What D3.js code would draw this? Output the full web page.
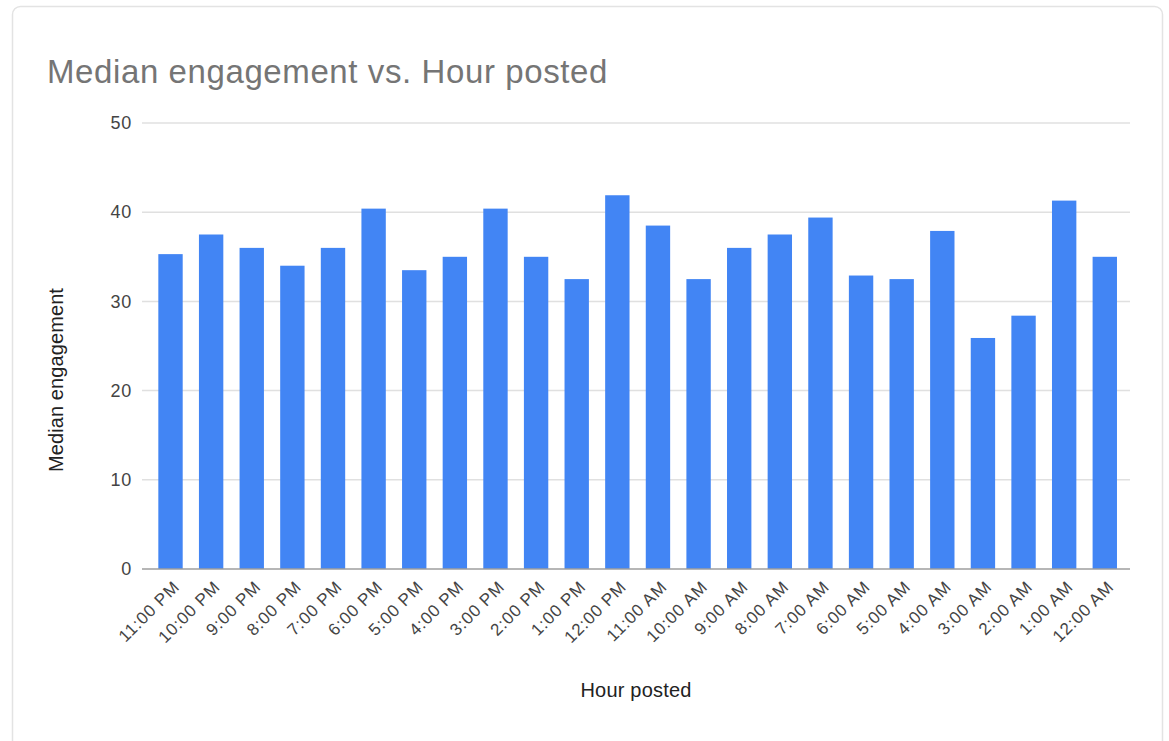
<!DOCTYPE html>
<html>
<head>
<meta charset="utf-8">
<script src="https://cdn.jsdelivr.net/npm/d3@7"></script>
<style>
  html, body { margin: 0; padding: 0; background: #fff; }
  svg { display: block; }
  text { font-family: "Liberation Sans", Arial, sans-serif; }
</style>
</head>
<body>
<svg id="chart" width="1169" height="741"></svg>
<script>
// Hour of posting, in the order shown on the axis
const hours = [
  "11:00 PM", "10:00 PM", "9:00 PM", "8:00 PM", "7:00 PM", "6:00 PM",
  "5:00 PM", "4:00 PM", "3:00 PM", "2:00 PM", "1:00 PM", "12:00 PM",
  "11:00 AM", "10:00 AM", "9:00 AM", "8:00 AM", "7:00 AM", "6:00 AM",
  "5:00 AM", "4:00 AM", "3:00 AM", "2:00 AM", "1:00 AM", "12:00 AM"
];
// Median engagement for each hour
const medianEngagement = [
  35.3, 37.5, 36.0, 34.0, 36.0, 40.4,
  33.5, 35.0, 40.4, 35.0, 32.5, 41.9,
  38.5, 32.5, 36.0, 37.5, 39.4, 32.9,
  32.5, 37.9, 25.9, 28.4, 41.3, 35.0
];
const yTicks = [0, 10, 20, 30, 40, 50];

const chartTitle = "Median engagement vs. Hour posted";
const xTitle = "Hour posted";
const yTitle = "Median engagement";

const svg = d3.select("#chart");

// card outline
svg.append("rect")
  .attr("x", 12.5).attr("y", 6.5)
  .attr("width", 1150).attr("height", 760)
  .attr("rx", 8)
  .attr("fill", "#fff")
  .attr("stroke", "#e3e3e3")
  .attr("stroke-width", 1.5);

const plot = { left: 142, right: 1130, top: 123, bottom: 569 };

const x = d3.scaleBand()
  .domain(hours)
  .range([150.2, 1125.1])
  .paddingInner(0.4)
  .paddingOuter(0.2);

const y = d3.scaleLinear()
  .domain([0, 50])
  .range([plot.bottom, plot.top]);

// horizontal gridlines
svg.append("g")
  .selectAll("line")
  .data(yTicks.filter(t => t !== 0))
  .join("line")
  .attr("x1", plot.left).attr("x2", plot.right)
  .attr("y1", d => y(d)).attr("y2", d => y(d))
  .attr("stroke", "#e0e0e0")
  .attr("stroke-width", 1.5);

// y axis tick labels
const yAxis = d3.axisLeft(y).tickValues(yTicks).tickSize(0).tickPadding(0);
const yG = svg.append("g")
  .attr("transform", `translate(${plot.left - 10},0)`)
  .call(yAxis);
yG.select(".domain").remove();
yG.selectAll("text")
  .attr("font-family", "Liberation Sans, Arial, sans-serif")
  .attr("font-size", 18)
  .attr("letter-spacing", 0.8)
  .attr("fill", "#444");

// bars
svg.append("g")
  .selectAll("rect")
  .data(hours)
  .join("rect")
  .attr("x", d => x(d))
  .attr("width", x.bandwidth())
  .attr("y", (d, i) => y(medianEngagement[i]))
  .attr("height", (d, i) => plot.bottom - y(medianEngagement[i]))
  .attr("fill", "#4285f4");

// baseline
svg.append("line")
  .attr("x1", plot.left).attr("x2", plot.right)
  .attr("y1", plot.bottom).attr("y2", plot.bottom)
  .attr("stroke", "#9e9e9e")
  .attr("stroke-width", 1.5);

// x axis tick labels, slanted
const xAxis = d3.axisBottom(x).tickSize(0).tickPadding(0);
const xG = svg.append("g")
  .attr("transform", `translate(0,${plot.bottom})`)
  .call(xAxis);
xG.select(".domain").remove();
xG.selectAll("text")
  .attr("font-family", "Liberation Sans, Arial, sans-serif")
  .attr("font-size", 17)
  .attr("letter-spacing", 0.8)
  .attr("fill", "#444")
  .attr("text-anchor", "end")
  .attr("dy", null)
  .attr("y", 0)
  .attr("transform", "translate(10,19) rotate(-45)");

// chart title
svg.append("text")
  .attr("x", 47).attr("y", 83)
  .attr("font-size", 33)
  .attr("letter-spacing", 0.6)
  .attr("fill", "#757575")
  .text(chartTitle);

// x axis title
svg.append("text")
  .attr("x", (plot.left + plot.right) / 2).attr("y", 697)
  .attr("text-anchor", "middle")
  .attr("font-size", 20)
  .attr("letter-spacing", 0.2)
  .attr("fill", "#222")
  .text(xTitle);

// y axis title
svg.append("text")
  .attr("transform", `translate(63,${(plot.top + plot.bottom) / 2 + 34}) rotate(-90)`)
  .attr("text-anchor", "middle")
  .attr("font-size", 20)
  .attr("letter-spacing", 0.1)
  .attr("fill", "#222")
  .text(yTitle);
</script>
</body>
</html>
